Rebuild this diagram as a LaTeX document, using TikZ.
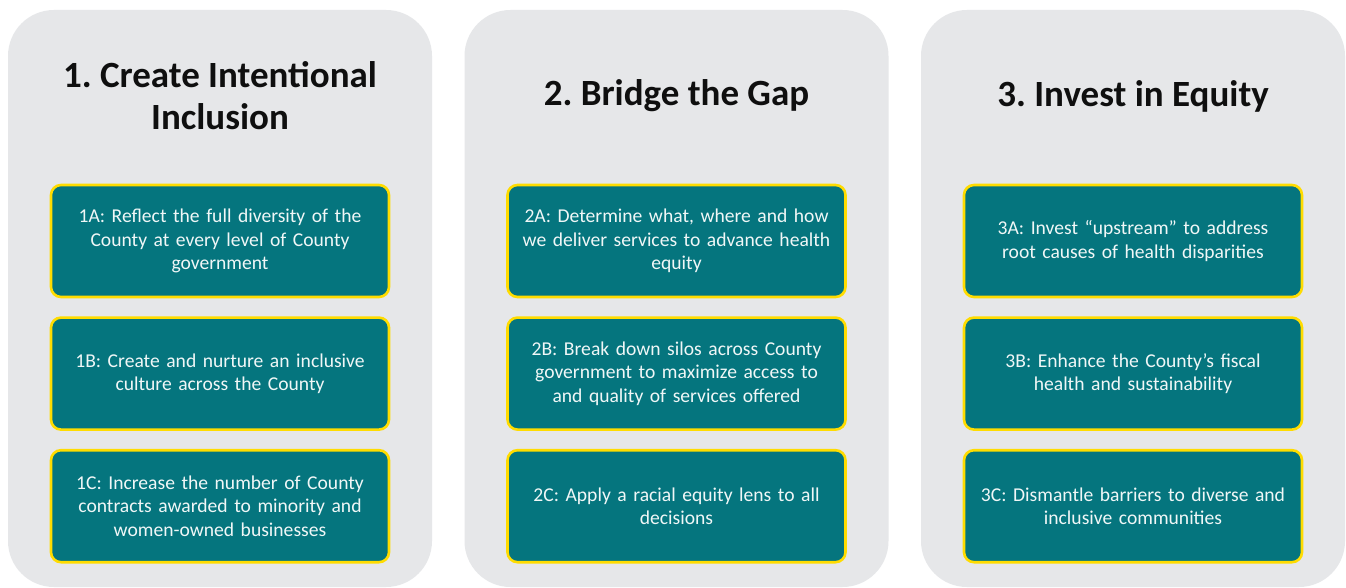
\documentclass[tikz,border=0pt]{standalone}
\usepackage{fontspec}
\setmainfont{Carlito}
\usetikzlibrary{positioning}
\definecolor{panelgrey}{RGB}{230,231,233}
\definecolor{teal}{RGB}{5,117,126}
\definecolor{gold}{RGB}{255,220,0}
\definecolor{ink}{RGB}{15,15,15}
\frenchspacing
\tikzset{
  panel/.style={fill=panelgrey,rounded corners=46pt},
  goal/.style={font=\fontsize{37}{42}\selectfont\bfseries,text=ink,align=center},
  action/.style={draw=gold,line width=2.6pt,fill=teal,text=white!94!teal,rounded corners=10pt,
    minimum width=338pt,minimum height=112pt,text width=324pt,align=center,
    font=\fontsize{19.6}{23.5}\selectfont},
}

\begin{document}
\begin{tikzpicture}[x=1pt,y=-1pt]
  \useasboundingbox[fill=white] (0,0) rectangle (1346,588);
  % the three columns
  \foreach \t/\a/\b/\c [count=\i from 0] in {
    1. Create Intentional\\Inclusion/1A: Reflect the full diversity of the\\County at every level of County\\government/1B: Create and nurture an inclusive\\culture across the County/1C: Increase the number of County\\contracts awarded to minority and\\women-owned businesses,
    2. Bridge the Gap/2A: Determine what{,} where and how\\we deliver services to advance health\\equity/2B: Break down silos across County\\government to maximize access to\\and quality of services offered/2C: Apply a racial equity lens to all\\decisions,
    3. Invest in Equity/3A: Invest ``upstream'' to address\\root causes of health disparities/3B: Enhance the County's fiscal\\health and sustainability/3C: Dismantle barriers to diverse and\\inclusive communities}{
    \pgfmathsetmacro{\x}{220+\i*456.5}
    \fill[panel] (\x-212,10) rectangle (\x+212,587);
    \node[goal] (goal\i) at (\x,96) {\t};
    \node[action] (act\i a) at (\x,241) {\a};
    \node[action,below=18pt of act\i a] (act\i b) {\b};
    \node[action,below=18pt of act\i b] (act\i c) {\c};
  }
\end{tikzpicture}
\end{document}
